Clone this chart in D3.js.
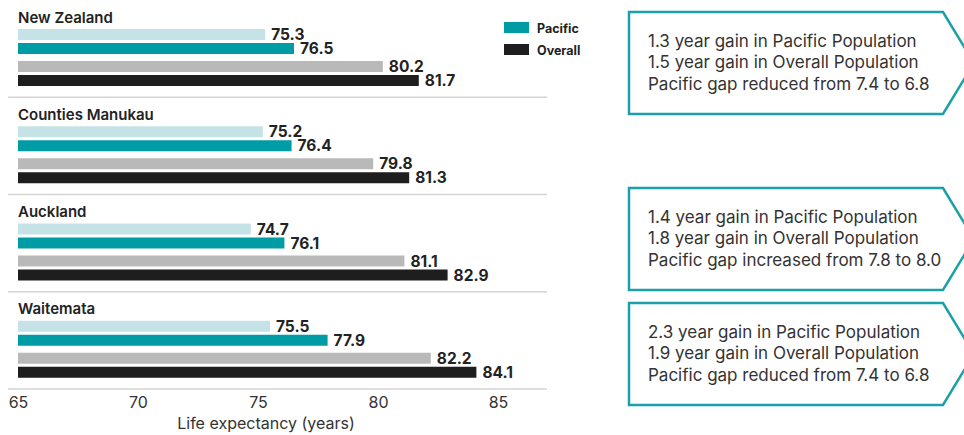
<!DOCTYPE html>
<html>
<head>
<meta charset="utf-8">
<script src="https://cdn.jsdelivr.net/npm/d3@7"></script>
<style>
  body { margin: 0; background: #fff; }
  svg { display: block; font-family: Inter, "Noto Sans", sans-serif; }
</style>
</head>
<body>
<svg width="964" height="435"></svg>
<script>
// data
var regions = ["New Zealand", "Counties Manukau", "Auckland", "Waitemata"];
var pacificBefore = [75.3, 75.2, 74.7, 75.5];
var pacificAfter = [76.5, 76.4, 76.1, 77.9];
var overallBefore = [80.2, 79.8, 81.1, 82.2];
var overallAfter = [81.7, 81.3, 82.9, 84.1];
var xTicks = [65, 70, 75, 80, 85];
var legendLabels = ["Pacific", "Overall"];

var notesNZ = ["1.3 year gain in Pacific Population", "1.5 year gain in Overall Population", "Pacific gap reduced from 7.4 to 6.8"];
var notesAuckland = ["1.4 year gain in Pacific Population", "1.8 year gain in Overall Population", "Pacific gap increased from 7.8 to 8.0"];
var notesWaitemata = ["2.3 year gain in Pacific Population", "1.9 year gain in Overall Population", "Pacific gap reduced from 7.4 to 6.8"];

var svg = d3.select("svg");

var colors = {
  pacificBefore: "#c5e3e7",
  pacificAfter: "#009ca6",
  overallBefore: "#b9b9b9",
  overallAfter: "#1e1e1e"
};

var rows = regions.map(function(r, i) {
  return {
    region: r,
    pacific: [{key: "pacificBefore", value: pacificBefore[i]}, {key: "pacificAfter", value: pacificAfter[i]}],
    overall: [{key: "overallBefore", value: overallBefore[i]}, {key: "overallAfter", value: overallAfter[i]}]
  };
});

var x = d3.scaleLinear().domain([65, 85]).range([18, 498]);
var yGroup = d3.scaleBand().domain(regions).range([0, 389]);
var yPair = d3.scaleBand().domain(["pacific", "overall"]).range([29, 86]).paddingInner(0.21875);
var yBar = d3.scaleBand().domain([0, 1]).range([0, 25]).paddingInner(0.2143);

// separator lines
svg.selectAll(".sep")
  .data(regions)
  .enter().append("line")
  .attr("class", "sep")
  .attr("x1", 8).attr("x2", 547)
  .attr("y1", function(d) { return yGroup(d) + yGroup.bandwidth(); })
  .attr("y2", function(d) { return yGroup(d) + yGroup.bandwidth(); })
  .attr("stroke", "#d4d4d4")
  .attr("stroke-width", 1.5);

var g = svg.selectAll(".region")
  .data(rows)
  .enter().append("g")
  .attr("class", "region")
  .attr("transform", function(d) { return "translate(0," + yGroup(d.region) + ")"; });

g.append("text")
  .attr("x", 18)
  .attr("y", 22.7)
  .attr("font-size", "15px")
  .attr("font-weight", 600)
  .attr("fill", "#222")
  .text(function(d) { return d.region; });

var pair = g.selectAll(".pair")
  .data(function(d) { return [{k: "pacific", bars: d.pacific}, {k: "overall", bars: d.overall}]; })
  .enter().append("g")
  .attr("class", "pair")
  .attr("transform", function(d) { return "translate(0," + yPair(d.k) + ")"; });

pair.selectAll("rect")
  .data(function(d) { return d.bars; })
  .enter().append("rect")
  .attr("x", x(65))
  .attr("y", function(d, i) { return yBar(i); })
  .attr("width", function(d) { return x(d.value) - x(65); })
  .attr("height", yBar.bandwidth())
  .attr("fill", function(d) { return colors[d.key]; });

pair.selectAll(".val")
  .data(function(d) { return d.bars; })
  .enter().append("text")
  .attr("class", "val")
  .attr("x", function(d) { return x(d.value) + 6; })
  .attr("y", function(d, i) { return yBar(i) + yBar.bandwidth(); })
  .attr("font-size", "15.5px")
  .attr("font-weight", 700)
  .attr("fill", "#222")
  .text(function(d) { return d.value.toFixed(1); });

// x axis
var axis = svg.append("g")
  .attr("transform", "translate(0,389)")
  .call(d3.axisBottom(x).tickValues(xTicks).tickSize(0).tickPadding(8));
axis.select(".domain").remove();
axis.selectAll("text")
  .attr("font-size", "16px")
  .attr("font-family", "Inter, 'Noto Sans', sans-serif")
  .attr("fill", "#333");

svg.append("text")
  .attr("x", 266)
  .attr("y", 429)
  .attr("text-anchor", "middle")
  .attr("font-size", "16px")
  .attr("fill", "#333")
  .text("Life expectancy (years)");

// legend
var legend = svg.selectAll(".legend")
  .data(legendLabels)
  .enter().append("g")
  .attr("class", "legend")
  .attr("transform", function(d, i) { return "translate(504," + (22 + i * 22) + ")"; });
legend.append("rect")
  .attr("width", 25).attr("height", 11)
  .attr("fill", function(d, i) { return i == 0 ? colors.pacificAfter : colors.overallAfter; });
legend.append("text")
  .attr("x", 33).attr("y", 11)
  .attr("font-size", "12.5px")
  .attr("font-weight", 700)
  .attr("fill", "#222")
  .text(function(d) { return d; });

// annotation boxes
var notes = [
  {top: 12, lines: notesNZ},
  {top: 188, lines: notesAuckland},
  {top: 303, lines: notesWaitemata}
];
var boxH = 102;
var box = svg.selectAll(".note")
  .data(notes)
  .enter().append("g")
  .attr("class", "note")
  .attr("transform", function(d) { return "translate(0," + d.top + ")"; });
box.append("path")
  .attr("d", "M629,0 L943,0 L974," + (boxH / 2) + " L943," + boxH + " L629," + boxH + " Z")
  .attr("fill", "#fff")
  .attr("stroke", "#1aa0a6")
  .attr("stroke-width", 2.5);
box.selectAll("text")
  .data(function(d) { return d.lines; })
  .enter().append("text")
  .attr("x", 648)
  .attr("y", function(d, i) { return 34.7 + i * 21.7; })
  .attr("font-size", "17px")
  .attr("fill", "#333")
  .text(function(d) { return d; });
</script>
</body>
</html>
